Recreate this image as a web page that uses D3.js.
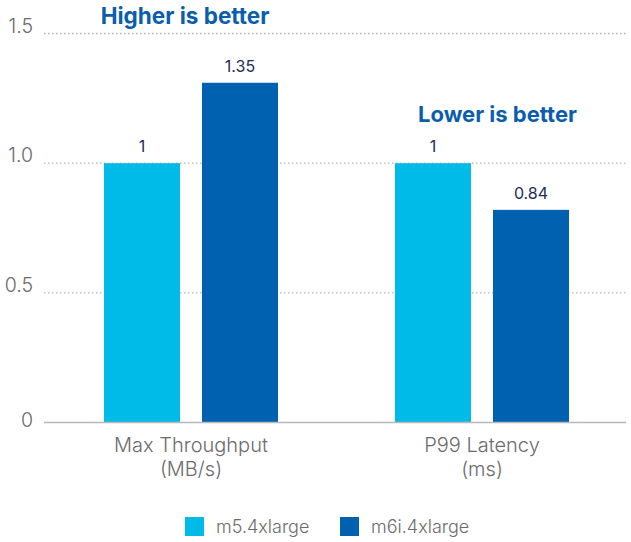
<!DOCTYPE html>
<html><head><meta charset="utf-8">
<script src="https://cdn.jsdelivr.net/npm/d3@7/dist/d3.min.js"></script>
<style>body{margin:0;background:#fff;}svg{display:block;font-family:Inter,"Open Sans",sans-serif;}</style>
</head><body><svg id="c" width="631" height="542"></svg>
<script>
const categories = [["Max Throughput","(MB/s)"],["P99 Latency","(ms)"]];
const categoryKeys = ["Max Throughput","P99 Latency"];
const seriesNames = ["m5.4xlarge","m6i.4xlarge"];
const m5Values = [1, 1];
const m6iValues = [1.31, 0.82];
const valueLabels = [["1","1.35"],["1","0.84"]];
const yTicks = [0, 0.5, 1.0, 1.5];
const yTickLabels = ["0","0.5","1.0","1.5"];
const notes = ["Higher is better","Lower is better"];
const colors = ["#00bbe7","#0061b0"];

const svg = d3.select("#c");
const y = d3.scaleLinear().domain([0,1.5]).range([422.5,33.5]);
const x0 = d3.scaleBand().domain(categoryKeys).range([45.5,627.5]).padding(0);
const x1 = d3.scaleBand().domain(seriesNames).range([0,x0.bandwidth()]).paddingInner(0.2245).paddingOuter(0.597);
const gridL = 44, gridR = 626;

// gridlines
svg.append("g").selectAll("line").data(yTicks.filter(d=>d>0)).join("line")
  .attr("x1",gridL).attr("x2",gridR).attr("y1",d=>y(d)).attr("y2",d=>y(d))
  .attr("stroke","#b5b5b5").attr("stroke-width",1.3).attr("stroke-dasharray","1.5,2.5");

// tick labels
svg.append("g").selectAll("text").data(yTicks).join("text")
  .attr("x",33).attr("y",d=>d===0?y(d)+4.5:y(d)-1)
  .attr("text-anchor","end").attr("fill","#6b6b6b").attr("font-size",19.5).attr("font-weight",300)
  .text((d,i)=>yTickLabels[i]);

// bars
const rows = categoryKeys.map((k,i)=>({key:k,vals:[m5Values[i],m6iValues[i]],labels:valueLabels[i]}));
const g = svg.append("g").selectAll("g").data(rows).join("g")
  .attr("transform",d=>`translate(${x0(d.key)},0)`);
g.selectAll("rect").data(d=>d.vals.map((v,j)=>({s:seriesNames[j],v,j}))).join("rect")
  .attr("x",d=>x1(d.s)).attr("width",x1.bandwidth())
  .attr("y",d=>y(d.v)).attr("height",d=>y(0)-y(d.v)).attr("fill",d=>colors[d.j]);
g.selectAll("text.v").data(d=>d.vals.map((v,j)=>({s:seriesNames[j],v,j,l:d.labels[j]}))).join("text")
  .attr("class","v").attr("x",d=>x1(d.s)+x1.bandwidth()/2).attr("y",d=>y(d.v)-11)
  .attr("text-anchor","middle").attr("fill","#1d2b5c").attr("font-size",16)
  .text(d=>d.l);

// baseline
svg.append("line").attr("x1",gridL).attr("x2",gridR).attr("y1",y(0)).attr("y2",y(0))
  .attr("stroke","#b8b8b8").attr("stroke-width",1.5);

// category labels
categories.forEach((c,i)=>{
  const cx = x0(categoryKeys[i]) + x0.bandwidth()/2;
  c.forEach((t,k)=>svg.append("text").attr("x",cx).attr("y",452+k*23.5)
    .attr("text-anchor","middle").attr("fill","#6b6b6b").attr("font-size",20).attr("font-weight",300).text(t));
});

// notes
svg.append("text").attr("x",185).attr("y",24).attr("text-anchor","middle")
  .attr("fill","#0b5eae").attr("font-size",22.5).attr("font-weight",700).text(notes[0]);
svg.append("text").attr("x",497.5).attr("y",122).attr("text-anchor","middle")
  .attr("fill","#0b5eae").attr("font-size",22).attr("font-weight",700).text(notes[1]);

// legend
const legX = [185,340];
seriesNames.forEach((s,i)=>{
  svg.append("rect").attr("x",legX[i]).attr("y",517).attr("width",19).attr("height",19).attr("fill",colors[i]);
  svg.append("text").attr("x",legX[i]+31).attr("y",533).attr("fill","#6b6b6b").attr("font-size",18).attr("font-weight",300).text(s);
});
</script></body></html>
